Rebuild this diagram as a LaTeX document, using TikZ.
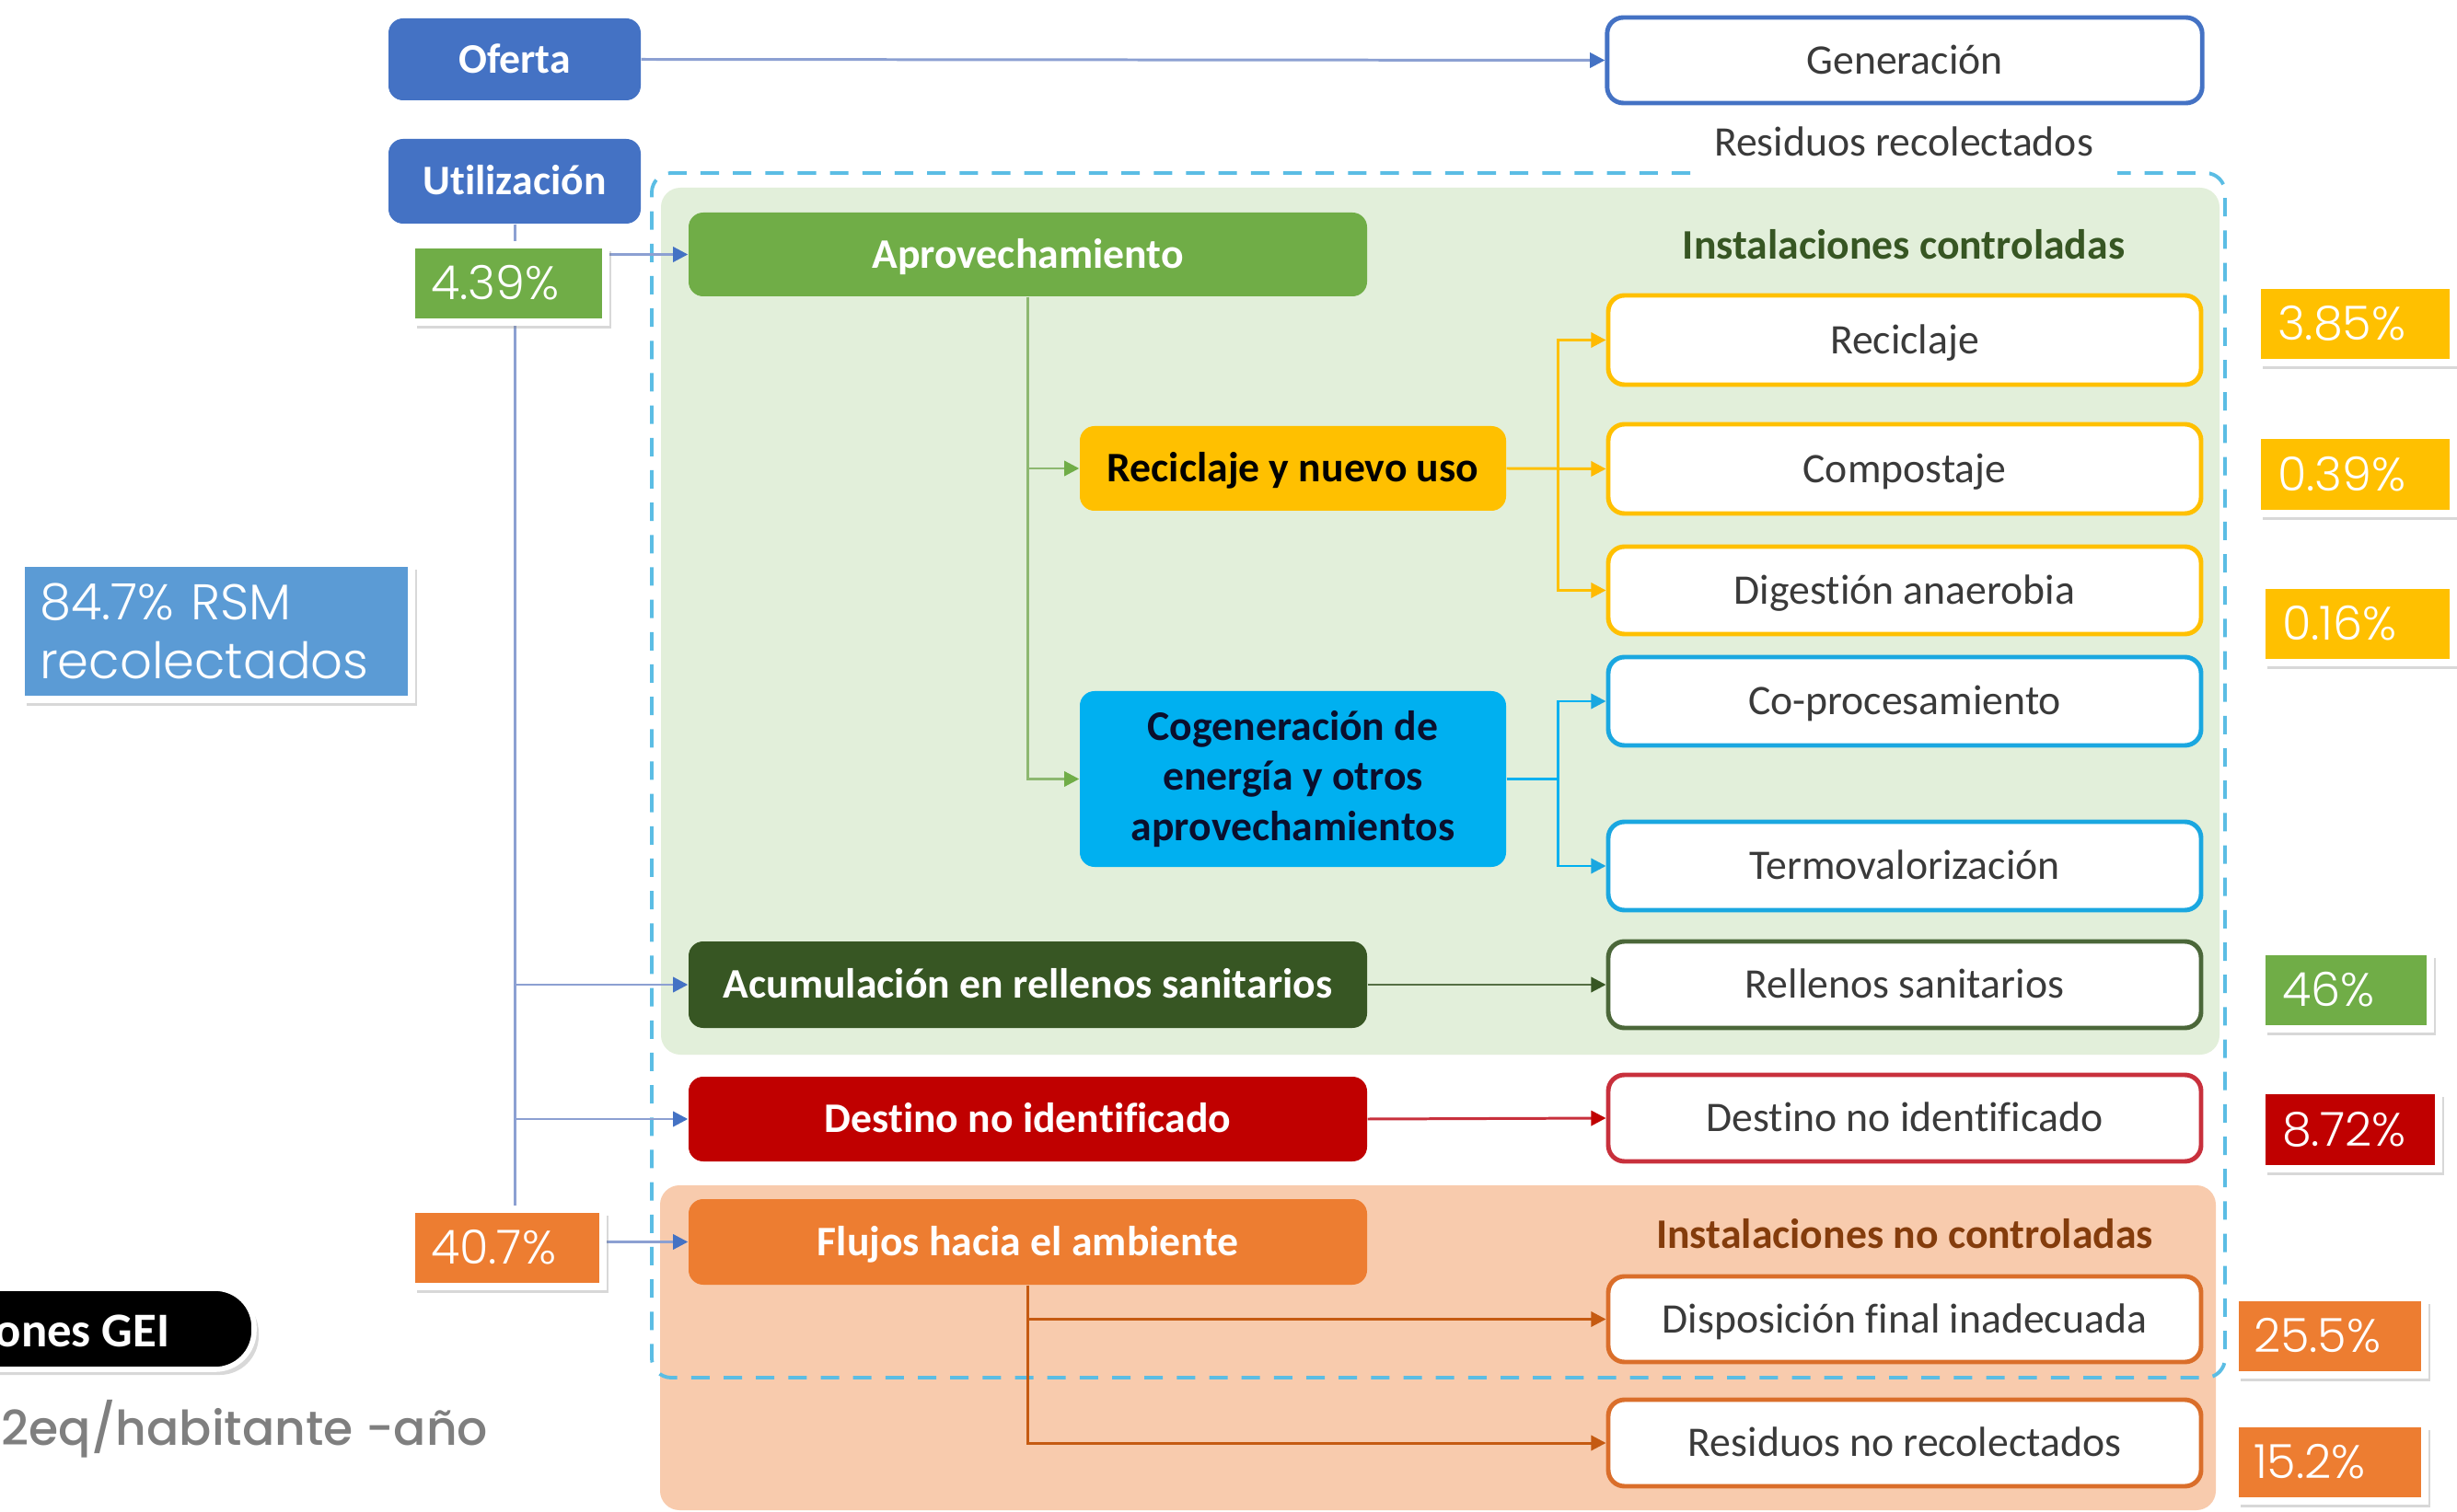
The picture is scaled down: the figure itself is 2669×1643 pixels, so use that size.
\documentclass[tikz,border=0pt]{standalone}
\usepackage{fontspec}
\setmainfont{Carlito}[Ligatures=NoCommon]
\newfontfamily\pctfont{Poppins Light}
\newfontfamily\grayfont{Poppins Medium}
\usetikzlibrary{arrows.meta,shadows,calc}
\definecolor{cblue}{HTML}{4472C4}
\definecolor{cgreen}{HTML}{70AD47}
\definecolor{cyellow}{HTML}{FFC000}
\definecolor{ccyan}{HTML}{00B0F0}
\definecolor{cdkgreen}{HTML}{375623}
\definecolor{cred}{HTML}{C00000}
\definecolor{corange}{HTML}{ED7D31}
\definecolor{lgreen}{HTML}{E2EFDA}
\definecolor{lorange}{HTML}{F8CBAD}
\definecolor{tblue}{HTML}{5B9BD5}
\definecolor{dashcol}{HTML}{5BBDE4}
\definecolor{txtgray}{HTML}{3A3A3A}
\definecolor{cbrown}{HTML}{843C0C}
\definecolor{bline}{HTML}{8CA0D2}
\definecolor{gline}{HTML}{8DB870}
\definecolor{cyborder}{HTML}{1AA7E0}
\definecolor{rborder}{HTML}{C8303C}
\definecolor{oborder}{HTML}{DA6E2A}
\definecolor{oline}{HTML}{C55A11}
\definecolor{grayt}{HTML}{7F7F7F}
\definecolor{cogtext}{HTML}{0A0F2D}
\begin{document}
\begin{tikzpicture}[x=0.01cm,y=-0.01cm,
  wh/.style 2 args={minimum width=#1*0.01cm, minimum height=#2*0.01cm},
  cbase/.style={inner sep=0pt, rounded corners=4.5pt, text=white,
    font=\bfseries\fontsize{13}{15.6}\selectfont},
  cbox/.style={cbase, text height=8.4pt, text depth=0pt},
  wbox/.style={draw, line width=1.4pt, fill=white, rounded corners=5pt,
    inner sep=0pt, text=txtgray, font=\fontsize{13}{15.6}\selectfont,
    text height=8.4pt, text depth=0pt, wh={644}{#1}},
  plain/.style={inner sep=0pt, font=\fontsize{13}{15.6}\selectfont,
    text height=8.4pt, text depth=0pt},
  tagbox/.style={draw=white, line width=0.08cm, anchor=west, inner ysep=0pt,
    text=white, align=left, font=\pctfont\fontsize{14.5}{17}\selectfont,
    drop shadow={opacity=0.3, shadow xshift=0.06cm, shadow yshift=-0.07cm}},
  onetag/.style={tagbox, text height=10pt, text depth=0pt},
  conn/.style={line width=0.85pt},
  bconn/.style={conn, draw=bline, -{Triangle[length=4.6pt,width=4.6pt,color=cblue]}},
  gconn/.style={conn, draw=gline, -{Triangle[length=4.6pt,width=4.6pt,color=cgreen]}},
  yconn/.style={conn, draw=cyellow, -{Triangle[length=4.6pt,width=4.6pt,color=cyellow!90!orange]}},
  cconn/.style={conn, draw=ccyan, -{Triangle[length=4.6pt,width=4.6pt,color=cyborder]}},
  dgconn/.style={conn, draw=cdkgreen!85, -{Triangle[length=4.6pt,width=4.6pt,color=cdkgreen]}},
  rconn/.style={conn, draw=rborder, -{Triangle[length=4.6pt,width=4.6pt,color=cred]}},
  oconn/.style={conn, draw=oline, -{Triangle[length=4.6pt,width=4.6pt,color=oline]}}
]
\useasboundingbox (0,0) rectangle (2669,1643);
\clip (0,0) rectangle (2669,1643);
\fill[white] (0,0) rectangle (2669,1643);

% background regions
\fill[lgreen, rounded corners=6pt] (718,204) rectangle (2411,1146);
\fill[lorange, rounded corners=6pt] (717,1288) rectangle (2407,1641);

% top row
\node[cbox, fill=cblue, wh={274}{89}] (oferta) at (559,64.5) {Oferta};
\node[cbox, fill=cblue, wh={274}{92}] (util) at (559,197) {Utilización};
\node[wbox={93}, draw=cblue, minimum width=6.46cm] (gen) at (2069,65.5) {Generación};
\node[plain, text=txtgray] (rrec) at (2068,155) {Residuos recolectados};

% left column boxes
\node[cbox, fill=cgreen, wh={737}{91}] (aprov) at (1116.5,276.5) {Aprovechamiento};
\node[cbox, fill=cyellow, text=black, wh={463}{92}] (rnu) at (1404.5,509) {Reciclaje y nuevo uso};
\node[cbase, fill=ccyan, text=cogtext, align=center, wh={463}{191}] (cog) at (1404.5,846.5)
  {Cogeneración de\\energía y otros\\aprovechamientos};
\node[cbox, fill=cdkgreen, wh={737}{94}] (acum) at (1116.5,1070) {Acumulación en rellenos sanitarios};
\node[cbox, fill=cred, wh={737}{92}] (dest) at (1116.5,1216) {Destino no identificado};
\node[cbox, fill=corange, wh={737}{93}] (flujos) at (1116.5,1349.5) {Flujos hacia el ambiente};

% section titles
\node[plain, text=cdkgreen, font=\bfseries\fontsize{13}{15.6}\selectfont] (ictrl) at (2068,267) {Instalaciones controladas};
\node[plain, text=cbrown, font=\bfseries\fontsize{13}{15.6}\selectfont] (inctrl) at (2069,1342) {Instalaciones no controladas};

% right column boxes
\node[wbox={97}, draw=cyellow] (recic) at (2069,369.5) {Reciclaje};
\node[wbox={97}, draw=cyellow] (compost) at (2069,509.5) {Compostaje};
\node[wbox={95}, draw=cyellow] (dig) at (2069,641.5) {Digestión anaerobia};
\node[wbox={96}, draw=cyborder] (cop) at (2069,762) {Co-procesamiento};
\node[wbox={96}, draw=cyborder] (termo) at (2069,941) {Termovalorización};
\node[wbox={94}, draw=cdkgreen!90] (rell) at (2069,1070) {Rellenos sanitarios};
\node[wbox={94}, draw=rborder] (dnid) at (2069,1215) {Destino no identificado};
\node[wbox={93}, draw=oborder] (disp) at (2069,1433.5) {Disposición final inadecuada};
\node[wbox={94}, draw=oborder] (rnr) at (2069,1568) {Residuos no recolectados};

% dashed boundary of collected waste
\draw[dashcol, line width=1.1pt, dash pattern=on 5.7pt off 4.3pt, rounded corners=6pt]
  (1836,188) -- (708,188) -- (708,1497) -- (2417,1497) -- (2417,188) -- (2300,188);

% connectors
\draw[bconn] (oferta.east) -- (gen.west);
\draw[bconn] (util.south) |- (aprov.west);
\draw[bconn] (util.south) |- (acum.west);
\draw[bconn] (util.south) |- (dest.west);
\draw[bconn] (util.south) |- (flujos.west);

\draw[gconn] (aprov.south) |- (rnu.west);
\draw[gconn] (aprov.south) |- (cog.west);

\coordinate (yj) at ($(rnu.east)+(56,0)$);
\draw[yconn] (rnu.east) -- (yj) |- (recic.west);
\draw[yconn] (rnu.east) -- (compost.west);
\draw[yconn] (rnu.east) -- (yj) |- (dig.west);

\coordinate (cj) at ($(cog.east)+(56,0)$);
\draw[cconn] (cog.east) -- (cj) |- (cop.west);
\draw[cconn] (cog.east) -- (cj) |- (termo.west);

\draw[dgconn] (acum.east) -- (rell.west);
\draw[rconn] (dest.east) -- (dnid.west);
\draw[oconn] (flujos.south) |- (disp.west);
\draw[oconn] (flujos.south) |- (rnr.west);

% percentage tags
\node[onetag, fill=cgreen, inner xsep=0.21cm, text width=1.69cm, minimum height=0.84cm] (p439) at (443,308) {4.39\%};
\node[onetag, fill=corange, inner xsep=0.21cm, text width=1.66cm, minimum height=0.84cm] (p407) at (443,1356) {40.7\%};
\node[tagbox, fill=tblue, inner xsep=0.20cm, text width=3.84cm, minimum height=1.48cm,
  font=\pctfont\fontsize{15.5}{18.2}\selectfont] (p847) at (19,686) {84.7\% RSM\\recolectados};
\node[onetag, fill=cyellow, inner xsep=0.22cm, text width=1.69cm, minimum height=0.84cm] (p385) at (2448,352) {3.85\%};
\node[onetag, fill=cyellow, inner xsep=0.22cm, text width=1.69cm, minimum height=0.85cm] (p039) at (2448,515.5) {0.39\%};
\node[onetag, fill=cyellow, inner xsep=0.22cm, text width=1.64cm, minimum height=0.84cm] (p016) at (2453,678) {0.16\%};
\node[onetag, fill=cgreen, inner xsep=0.22cm, text width=1.39cm, minimum height=0.84cm] (p46) at (2453,1076) {46\%};
\node[onetag, fill=cred, inner xsep=0.22cm, text width=1.48cm, minimum height=0.85cm] (p872) at (2453,1227.5) {8.72\%};
\node[onetag, fill=corange, inner xsep=0.20cm, text width=1.66cm, minimum height=0.84cm] (p255) at (2424,1452) {25.5\%};
\node[onetag, fill=corange, inner xsep=0.20cm, text width=1.66cm, minimum height=0.84cm] (p152) at (2424,1589) {15.2\%};

% GEI pill and unit text
\draw[fill=black, draw=white, line width=1.6pt, rounded corners=12pt,
  drop shadow={opacity=0.3, shadow xshift=0.05cm, shadow yshift=-0.06cm}]
  (-80,1400) rectangle (276,1488);
\node[anchor=east, inner sep=0pt, text=white, font=\bfseries\fontsize{15}{18}\selectfont,
  text height=9.7pt, text depth=0pt] (gei) at (185,1446) {ones GEI};
\node[anchor=base west, inner sep=0pt, text=grayt, font=\grayfont\fontsize{14.8}{18}\selectfont] (unit) at (1,1570) {2eq/habitante -año};
\end{tikzpicture}
\end{document}
